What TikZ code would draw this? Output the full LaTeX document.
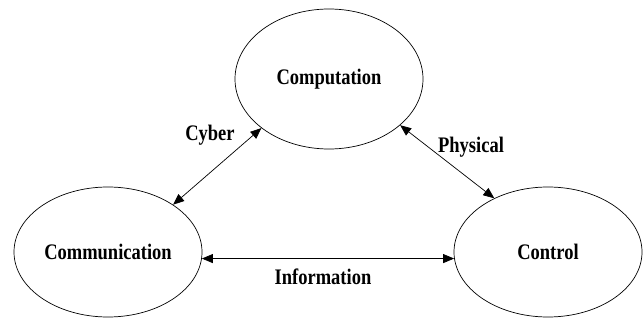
\documentclass[tikz,border=0pt]{standalone}
\usepackage{fontspec}
\setmainfont{Liberation Serif}
\usepackage{graphicx}
\usepackage{tikz}
\usetikzlibrary{shapes.geometric,arrows.meta,positioning}

\newcommand{\tallbf}[1]{\scalebox{1}[1.2]{\bfseries #1}}

\begin{document}
\begin{tikzpicture}[x=1pt, y=1pt,
  blob/.style={ellipse, draw, line width=0.7pt, inner sep=0pt, minimum width=188pt, minimum height=130pt, font=\fontsize{18.5}{20}\selectfont},
  lbl/.style={font=\fontsize{18.5}{20}\selectfont, inner sep=0pt},
  link/.style={line width=0.7pt, {Triangle[length=11pt,width=9pt]}-{Triangle[length=11pt,width=9pt]}}]
\useasboundingbox (0,0) rectangle (644,327);
\node[blob, minimum height=140pt] (comp) at (329,248) {\tallbf{Computation}};
\node[blob] (comm) at (108,75) {\tallbf{Communication}};
\node[blob] (ctrl) at (548,75) {\tallbf{Control}};
%
\draw[link] (comm.36) -- (comp.216);
\draw[link] (comp.327) -- (ctrl.135);
\draw[link] (comm.-4) -- (ctrl.184);
%
\node[lbl] (cyber) at (210,192) {\tallbf{Cyber}};
\node[lbl] (phys) at (471,180) {\tallbf{Physical}};
\node[lbl] (info) at (323,50) {\tallbf{Information}};
\end{tikzpicture}
\end{document}
